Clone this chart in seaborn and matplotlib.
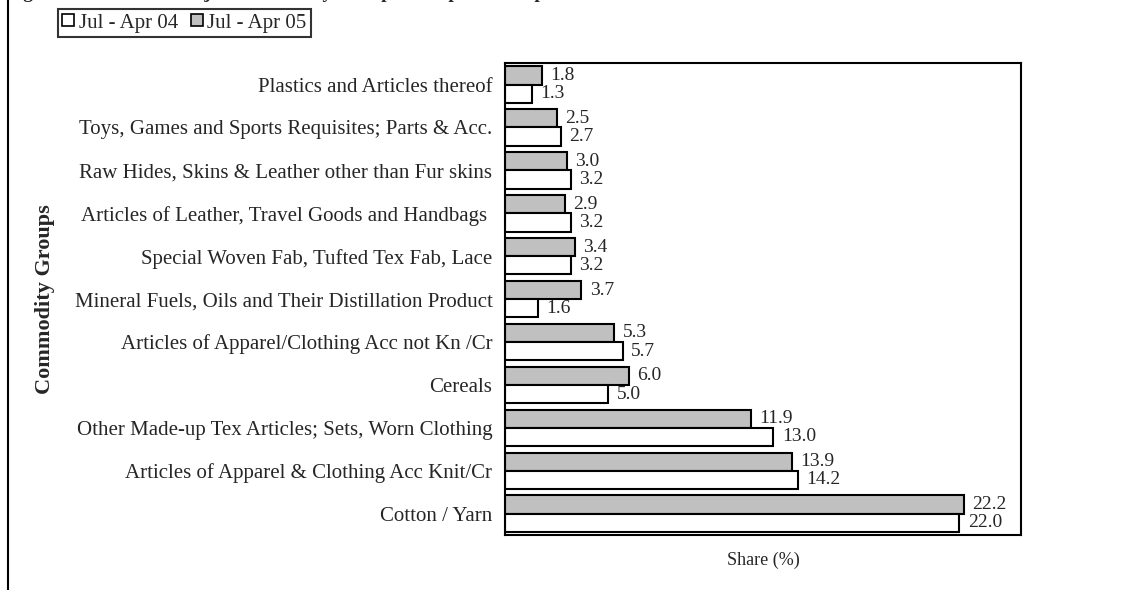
import matplotlib
matplotlib.use("Agg")
import matplotlib.pyplot as plt
from matplotlib.lines import Line2D
import pandas as pd
import seaborn as sns

# commodity groups, top to bottom as in the chart
groups = [
    "Plastics and Articles thereof",
    "Toys, Games and Sports Requisites; Parts & Acc.",
    "Raw Hides, Skins & Leather other than Fur skins",
    "Articles of Leather, Travel Goods and Handbags ",
    "Special Woven Fab, Tufted Tex Fab, Lace",
    "Mineral Fuels, Oils and Their Distillation Product",
    "Articles of Apparel/Clothing Acc not Kn /Cr",
    "Cereals",
    "Other Made-up Tex Articles; Sets, Worn Clothing",
    "Articles of Apparel & Clothing Acc Knit/Cr",
    "Cotton / Yarn",
]
share_04 = [1.3, 2.7, 3.2, 3.2, 3.2, 1.6, 5.7, 5.0, 13.0, 14.2, 22.0]
share_05 = [1.8, 2.5, 3.0, 2.9, 3.4, 3.7, 5.3, 6.0, 11.9, 13.9, 22.2]
periods = ["Jul - Apr 04", "Jul - Apr 05"]

df = pd.DataFrame({
    "group": groups * 2,
    "share": share_04 + share_05,
    "period": [periods[0]] * len(groups) + [periods[1]] * len(groups),
})

sns.set_style("white")
plt.rcParams["font.family"] = ["Liberation Serif", "DejaVu Serif"]

fig = plt.figure(figsize=(11.45, 5.9), dpi=100)
ax = fig.add_axes([0.441, 0.093, 0.451, 0.800])

colors = {periods[0]: "white", periods[1]: "#c0c0c0"}
sns.barplot(data=df, y="group", x="share", hue="period",
            hue_order=[periods[1], periods[0]], order=groups,
            palette=colors, orient="h", width=0.85, gap=0,
            edgecolor="black", linewidth=1.5, legend=False, ax=ax)

for cont in ax.containers:
    ax.bar_label(cont, fmt="%.1f", padding=6, fontsize=14)

ax.set_xlim(0, 25)
ax.set_xticks([])
ax.set_xlabel("Share (%)", fontsize=13, labelpad=12)
ax.set_ylabel("Commodity Groups", fontsize=16, fontweight="bold", labelpad=14)
ax.tick_params(axis="y", length=0, pad=9, labelsize=15)
for s in ax.spines.values():
    s.set_visible(True)
    s.set_color("black")
    s.set_linewidth(1.5)

# legend: 04 first, then 05
handles = [Line2D([0], [0], marker="s", linestyle="none", markersize=9,
                  markerfacecolor=colors[p], markeredgecolor="black",
                  markeredgewidth=1.2, label=p) for p in periods]
leg = fig.legend(handles=handles, loc="upper left", ncol=2,
                 bbox_to_anchor=(58 / 1145, 1 - 9 / 590), fontsize=15,
                 frameon=True, fancybox=False, edgecolor="black",
                 handlelength=0.6, handletextpad=0.2, columnspacing=0.6,
                 borderpad=0.2, borderaxespad=0)
leg.get_frame().set_linewidth(1.5)

# title clipped at the top of the page, frame line at left
fig.text(0.005, 1.004, "Figure 8.2: Share of Major Commodity Groups in Export Receipts",
         fontsize=14, fontweight="bold", va="baseline", ha="left")
fig.add_artist(Line2D([8 / 1145, 8 / 1145], [0, 1], color="black",
                      linewidth=1.5, transform=fig.transFigure))

fig.savefig("out.png", dpi=100)
